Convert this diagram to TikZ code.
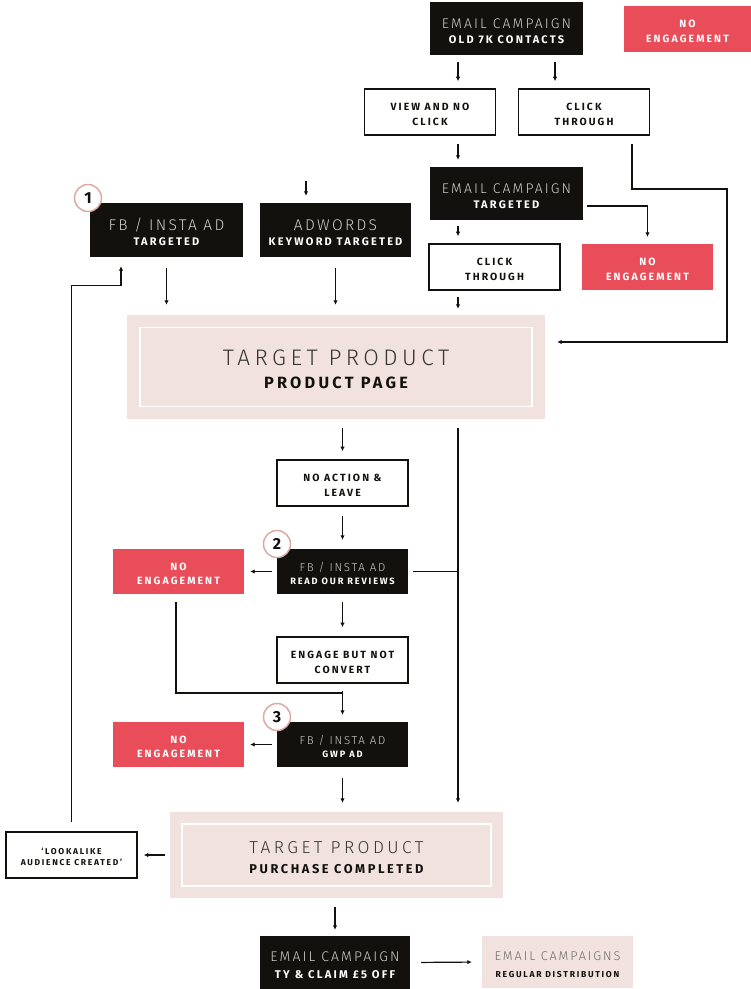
\documentclass[tikz,border=0pt]{standalone}
\usepackage{fontspec}
\setmainfont{Fira Sans}
\newfontfamily\thinf[LetterSpace=15]{Fira Sans Light}
\newfontfamily\widef[LetterSpace=20]{Fira Sans Light}
\newfontfamily\boldf[LetterSpace=20]{Fira Sans Bold}
\usetikzlibrary{arrows.meta}
\definecolor{ink}{HTML}{12110E}
\definecolor{alertred}{HTML}{E94D59}
\definecolor{blush}{HTML}{F2E2DF}
\definecolor{ring}{HTML}{D9ABA2}
\definecolor{pale}{HTML}{D2CFCA}
\definecolor{mid}{HTML}{6E6A67}
\newcommand{\lift}{\rule{0pt}{\dimexpr0.69em+5pt\relax}}
\newcommand{\lite}[3][pale]{{\color{#1}\thinf\fontsize{#2}{#2}\selectfont\lift #3}}
\newcommand{\wide}[2]{{\color{ink!85}\widef\fontsize{#1}{#1}\selectfont\lift #2}}
\newcommand{\hvy}[2]{{\boldf\fontsize{#1}{#1}\selectfont #2}}
\newcommand{\hvyt}[2]{{\boldf\fontsize{#1}{#1}\selectfont\lift #2}}
\begin{document}
\begin{tikzpicture}[x=1pt, y=-1pt, >={Latex[length=4.5pt,width=4.5pt]},
  every node/.style={inner sep=2pt, align=center, font=\fontsize{10}{12}\selectfont},
  dark/.style={fill=ink, text=white},
  outline/.style={draw=ink, line width=1.6pt, fill=white, text=ink,
    minimum width=131pt, minimum height=46pt},
  noeng/.style={fill=alertred, text=white, minimum width=131pt, minimum height=46pt},
  soft/.style={fill=blush, text=ink},
  badge/.style={circle, draw=ring, fill=white, line width=1.5pt, minimum size=27pt,
    inner sep=0pt, text=ink, font=\fontsize{16}{16}\bfseries},
  link/.style={line width=1.2pt, draw=ink},
  arr/.style={link, ->}]
  \useasboundingbox (0,0) rectangle (751,989);

  \node[dark, minimum width=153pt, minimum height=53pt] (ec1) at (506.5,28.5)
    {\lite{14}{EMAIL CAMPAIGN}\\[3.2pt]\hvy{11}{OLD 7K CONTACTS}};
  \node[noeng, minimum width=127pt] (ne1) at (687.5,29)
    {\hvyt{10.5}{NO}\\[2.5pt]\hvy{10.5}{ENGAGEMENT}};
  \node[outline] (vn) at (430,112) {\hvyt{10.4}{VIEW AND NO}\\[2.7pt]\hvy{10.4}{CLICK}};
  \node[outline] (ct1) at (584,112) {\hvyt{10.4}{CLICK}\\[2.7pt]\hvy{10.4}{THROUGH}};
  \node[dark, minimum width=153pt, minimum height=53pt] (ec2) at (506.5,193.5)
    {\lite{14}{EMAIL CAMPAIGN}\\[3.2pt]\hvy{11}{TARGETED}};
  \node[outline] (ct2) at (494.5,267) {\hvyt{10.4}{CLICK}\\[2.7pt]\hvy{10.4}{THROUGH}};
  \node[noeng] (ne2) at (647.5,267) {\hvyt{10.5}{NO}\\[2.5pt]\hvy{10.5}{ENGAGEMENT}};
  \node[dark, minimum width=153pt, minimum height=54pt] (fb1) at (166.5,230)
    {\lite{15.5}{FB / INSTA AD}\\[2.6pt]\hvy{11}{TARGETED}};
  \node[dark, minimum width=151pt, minimum height=54pt] (adw) at (335.5,230)
    {\lite{15.5}{ADWORDS}\\[2.6pt]\hvy{11}{KEYWORD TARGETED}};
  \node[soft, minimum width=418pt, minimum height=104pt] (pp) at (336,367)
    {\wide{22.5}{TARGET PRODUCT}\\[11.3pt]\hvy{16.3}{PRODUCT PAGE}};
  \node[draw=white, line width=1.2pt, minimum width=392pt, minimum height=79pt] (ppf) at (pp) {};
  \node[outline] (na) at (342.5,483) {\hvyt{10.4}{NO ACTION \&}\\[2.7pt]\hvy{10.4}{LEAVE}};
  \node[dark, minimum width=131pt, minimum height=45pt] (fb2) at (342.5,571.5)
    {\lite{11.5}{FB / INSTA AD}\\[0.5pt]\hvy{9.2}{READ OUR REVIEWS}};
  \node[noeng, minimum height=45pt] (ne3) at (178.5,571.5) {\hvyt{10.5}{NO}\\[2.5pt]\hvy{10.5}{ENGAGEMENT}};
  \node[outline] (eb) at (342.5,660) {\hvyt{10.4}{ENGAGE BUT NOT}\\[2.7pt]\hvy{10.4}{CONVERT}};
  \node[dark, minimum width=131pt, minimum height=45pt] (fb3) at (342.5,744.5)
    {\lite{11.5}{FB / INSTA AD}\\[0.5pt]\hvy{9.2}{GWP AD}};
  \node[noeng, minimum height=45pt] (ne4) at (178.5,744.5) {\hvyt{10.5}{NO}\\[2.5pt]\hvy{10.5}{ENGAGEMENT}};
  \node[soft, minimum width=333pt, minimum height=86pt] (buy) at (336.5,855)
    {\wide{17.3}{TARGET PRODUCT}\\[7.4pt]\hvy{12.8}{PURCHASE COMPLETED}};
  \node[draw=white, line width=1.2pt, minimum width=309pt, minimum height=62pt] (buyf) at (buy) {};
  \node[outline] (look) at (71.5,855) {\hvyt{8.5}{‘LOOKALIKE}\\[-1pt]\hvy{8.5}{AUDIENCE CREATED’}};
  \node[dark, minimum width=150pt, minimum height=53pt] (ec3) at (335,962.5)
    {\lite{14}{EMAIL CAMPAIGN}\\[5pt]\hvy{11.2}{TY \& CLAIM £5 OFF}};
  \node[soft, minimum width=151pt, minimum height=52pt] (reg) at (557.5,962)
    {\lite[mid]{12.7}{EMAIL CAMPAIGNS}\\[5pt]\hvy{8.6}{REGULAR DISTRIBUTION}};

  \node[badge] (b1) at (88,198) {1};
  \node[badge] (b2) at (277,544) {2};
  \node[badge] (b3) at (277,717) {3};

  \coordinate (adin) at (306,181);
  \coordinate (rbend) at (727,189);
  \coordinate (merge) at (342.5,693);
  \coordinate (trunk) at (458,419);

  \draw[arr, shorten <=7pt, shorten >=7pt] ([xshift=-48.5pt]ec1.south) -- ([xshift=-48.5pt]ec1.south |- vn.north);
  \draw[arr, shorten <=7pt, shorten >=7pt] ([xshift=48.5pt]ec1.south) -- ([xshift=48.5pt]ec1.south |- ct1.north);
  \draw[arr, shorten <=8pt, shorten >=7pt] ([xshift=28pt]vn.south) -- ([xshift=28pt]vn.south |- ec2.north);
  \draw[arr, shorten <=8pt, shorten >=12pt] ([xshift=48pt]ct1.south) |- (rbend) |- ([yshift=25pt]pp.east);
  \draw[arr, shorten <=6pt, shorten >=7pt] ([xshift=-48.5pt]ec2.south) -- ([xshift=-48.5pt]ec2.south |- ct2.north);
  \draw[arr, shorten <=4pt, shorten >=7pt] ([yshift=-12.5pt]ec2.east) -| (ne2.north);
  \draw[arr, shorten <=6pt, shorten >=6pt] ([xshift=-36.5pt]ct2.south) -- ([xshift=-36.5pt]ct2.south |- pp.north);
  \draw[arr, shorten >=7pt] (adin) -- (adin |- adw.north);
  \draw[arr, shorten <=11pt, shorten >=10pt] (fb1.south) -- (fb1.south |- pp.north);
  \draw[arr, shorten <=11pt, shorten >=10pt] (adw.south) -- (adw.south |- pp.north);
  \draw[arr, shorten <=9pt, shorten >=8pt] (na.north |- pp.south) -- (na.north);
  \draw[arr, shorten <=9pt, shorten >=9pt] (trunk) -- (trunk |- buy.north);
  \draw[arr, shorten <=9pt, shorten >=9pt] (na.south) -- (fb2.north);
  \draw[link, shorten <=5pt] (fb2.east) -- (fb2.east -| trunk);
  \draw[arr, shorten <=5pt, shorten >=6pt] (fb2.west) -- (ne3.east);
  \draw[arr, shorten <=8pt, shorten >=9pt] (fb2.south) -- (eb.north);
  \draw[link, shorten <=8pt] ([xshift=-2.5pt]ne3.south) |- (merge);
  \draw[arr, shorten <=7pt, shorten >=7pt] (eb.south) -- (fb3.north);
  \draw[arr, shorten <=5pt, shorten >=6pt] (fb3.west) -- (ne4.east);
  \draw[arr, shorten <=11pt, shorten >=9pt] (fb3.south) -- (fb3.south |- buy.north);
  \draw[arr, shorten <=5pt, shorten >=6pt] (buy.west) -- (look.east);
  \draw[arr, shorten <=9pt, shorten >=9pt] (look.north) |- ([xshift=-45.5pt,yshift=-28pt]fb1.south) -- ([xshift=-45.5pt]fb1.south);
  \draw[arr, shorten <=9pt, shorten >=6pt] (ec3.north |- buy.south) -- (ec3.north);
  \draw[arr, shorten <=11pt, shorten >=10pt] (ec3.east) -- (reg.west);
\end{tikzpicture}
\end{document}
